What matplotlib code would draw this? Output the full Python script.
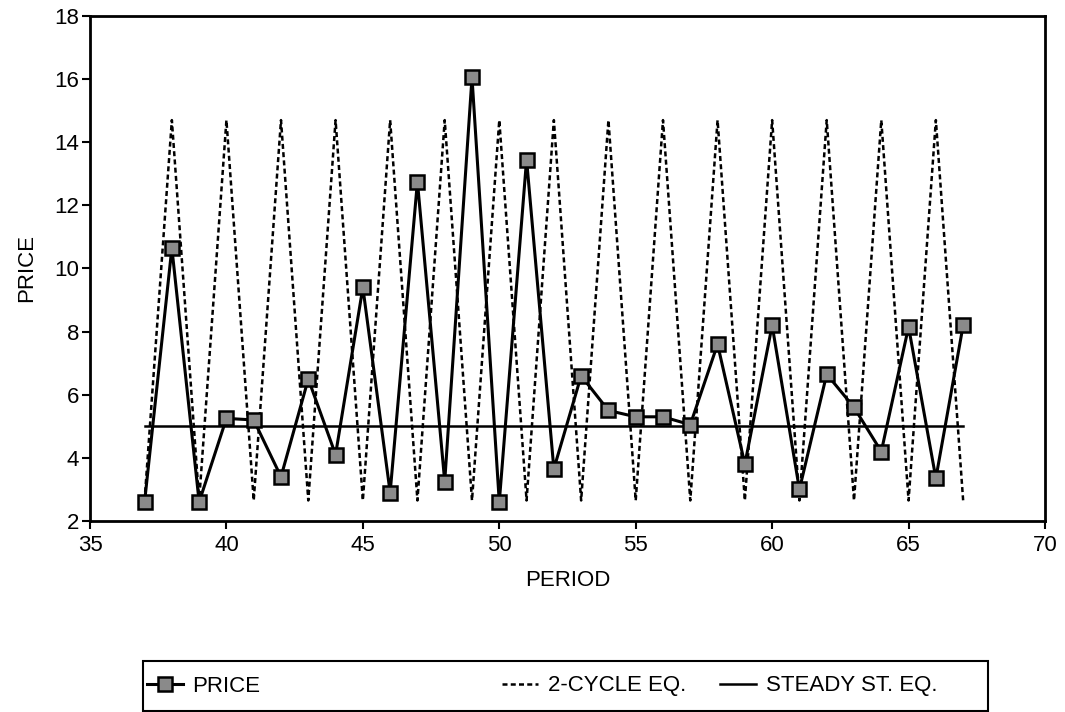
import matplotlib
matplotlib.use("Agg")
import matplotlib.pyplot as plt
from matplotlib.patches import Rectangle

plt.rcParams['font.family'] = ['Liberation Sans', 'DejaVu Sans']

# data
period = list(range(37, 68))
price = [2.6, 10.65, 2.6, 5.25, 5.2, 3.4, 6.5, 4.1, 9.4, 2.9,
         12.75, 3.25, 16.05, 2.6, 13.45, 3.65, 6.6, 5.5, 5.3, 5.3,
         5.05, 7.6, 3.8, 8.2, 3.0, 6.65, 5.6, 4.2, 8.15, 3.35, 8.2]
cycle_low = 2.65
cycle_high = 14.7
cycle_eq = [cycle_low if p % 2 == 1 else cycle_high for p in period]
steady_eq = [5.0] * len(period)

W, H = 1065, 712
fig = plt.figure(figsize=(W / 100, H / 100), dpi=100)
ax = fig.add_axes([90 / W, 0.2683, 955 / W, 0.7093])

l_cyc, = ax.plot(period, cycle_eq, color='black', linestyle=(0, (2, 1.3)),
                 linewidth=1.8, label='2-CYCLE EQ.')
l_ss, = ax.plot(period, steady_eq, color='black', linewidth=1.8,
                label='STEADY ST. EQ.')
l_pr, = ax.plot(period, price, color='black', linewidth=2.2, marker='s',
                markersize=9.5, markerfacecolor='#8a8a8a',
                markeredgecolor='black', markeredgewidth=1.8, label='PRICE')

ax.set_xlim(35, 70)
ax.set_ylim(2, 18)
ax.set_xticks(range(35, 71, 5))
ax.set_yticks(range(2, 19, 2))
ax.tick_params(direction='out', length=6, width=1.5, labelsize=16)
ax.tick_params(axis='x', pad=4)
ax.tick_params(axis='y', pad=2)
for s in ax.spines.values():
    s.set_linewidth(2)
ax.set_xlabel('PERIOD', fontsize=16, labelpad=10)
ax.set_ylabel('PRICE', fontsize=16, labelpad=12)

# legend: box plus three entries placed along it
fig.add_artist(Rectangle((143 / W, 1.5 / H), 845 / W, 50 / H,
                         transform=fig.transFigure, fill=False,
                         edgecolor='black', linewidth=1.5))
entries = [(l_pr, 'PRICE', 147), (l_cyc, '2-CYCLE EQ.', 502),
           (l_ss, 'STEADY ST. EQ.', 720)]
for handle, label, xpx in entries:
    fig.legend([handle], [label], loc='center left',
               bbox_to_anchor=(xpx / W, 1 - 686 / H), frameon=False,
               fontsize=16, borderpad=0, borderaxespad=0,
               handlelength=1.6, handletextpad=0.45)

plt.savefig('out.png', dpi=100)
